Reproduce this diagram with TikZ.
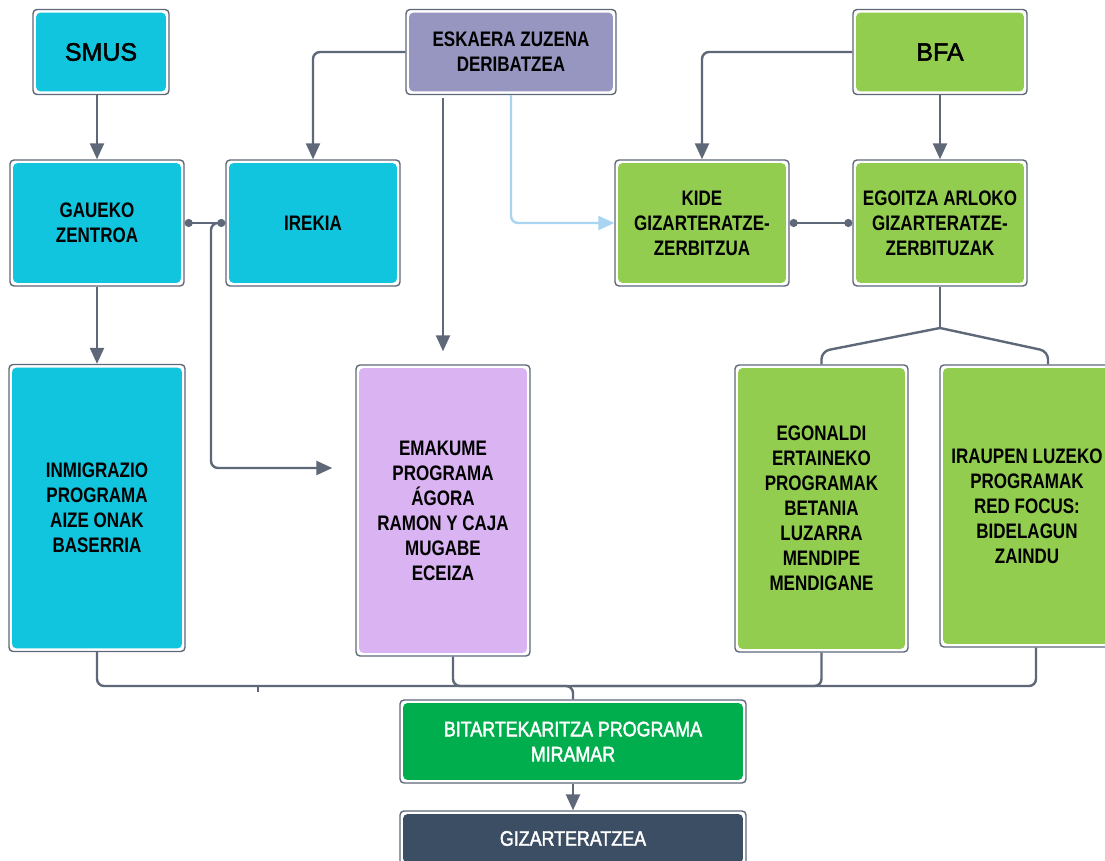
\documentclass[tikz,border=0pt]{standalone}
\usepackage{fontspec}
\setmainfont{Liberation Sans}[FakeStretch=0.85, FakeBold=2]
\newfontfamily\boxfont{Liberation Sans Bold}[FakeStretch=0.81]
\newfontfamily\headfont{Liberation Sans}[FakeBold=2]
\usetikzlibrary{arrows.meta}

\definecolor{smuscyan}{HTML}{12C5DE}
\definecolor{eskaerapurple}{HTML}{9696C0}
\definecolor{bfagreen}{HTML}{92CD4F}
\definecolor{emakumelilac}{HTML}{DAB3F2}
\definecolor{miramargreen}{HTML}{00AE4E}
\definecolor{gizarnavy}{HTML}{3C4E63}
\definecolor{linegray}{HTML}{5E6878}
\definecolor{lightblue}{HTML}{A9D4F2}

\tikzset{
	box/.style={draw=linegray, line width=0.7pt, fill=white, rounded corners=2pt,
		align=center, inner sep=2pt, font=\boxfont\fontsize{10.5}{12.5}\selectfont,
		path picture={\fill[#1] ([shift={(1.6pt,1.6pt)}]path picture bounding box.south west)
			rectangle ([shift={(-1.6pt,-1.6pt)}]path picture bounding box.north east);}},
	headbox/.style={box=#1, font=\headfont\fontsize{12.5}{15}\selectfont},
	whitebox/.style={box=#1, text=white, font=\fontsize{10.5}{12.5}\selectfont},
	link/.style={draw=linegray, line width=1.2pt},
	arr/.style={link, -{Triangle[length=8pt, width=7pt]}},
	lightarr/.style={draw=lightblue, line width=1.2pt, -{Triangle[length=8pt, width=7pt]}},
	dotlink/.style={link, {Circle[length=4pt]}-{Circle[length=4pt]}}
}

\begin{document}
\begin{tikzpicture}[x=0.5pt, y=-0.5pt]
		%%%%% START %%%%%
		\useasboundingbox (0, 0) rectangle (1105, 861);
		
		% top row
		\node[headbox=smuscyan, minimum width=68pt, minimum height=42.5pt] (smus) at (101, 52) {SMUS};
		\node[box=eskaerapurple, minimum width=105pt, minimum height=42.5pt] (eskaera) at (511, 52) {ESKAERA ZUZENA\\DERIBATZEA};
		\node[headbox=bfagreen, minimum width=87pt, minimum height=42.5pt] (bfa) at (940, 52) {BFA};
		
		% second row
		\node[box=smuscyan, minimum width=87pt, minimum height=63pt] (gaueko) at (97, 223) {GAUEKO\\ZENTROA};
		\node[box=smuscyan, minimum width=87pt, minimum height=63pt] (irekia) at (313, 223) {IREKIA};
		\node[box=bfagreen, minimum width=87pt, minimum height=63pt] (kide) at (702, 223) {KIDE\\GIZARTERATZE-\\ZERBITZUA};
		\node[box=bfagreen, minimum width=87pt, minimum height=63pt] (egoitza) at (940, 223) {EGOITZA ARLOKO\\GIZARTERATZE-\\ZERBITUZAK};
		
		% programs
		\node[box=smuscyan, minimum width=88pt, minimum height=143.5pt] (inmig) at (97, 508) {INMIGRAZIO\\PROGRAMA\\AIZE ONAK\\BASERRIA};
		\node[box=emakumelilac, minimum width=87pt, minimum height=145.5pt] (emakume) at (443, 510.5) {EMAKUME\\PROGRAMA\\ÁGORA\\RAMON Y CAJA\\MUGABE\\ECEIZA};
		\node[box=bfagreen, minimum width=86.5pt, minimum height=143.5pt] (egonaldi) at (821.5, 508.5) {EGONALDI\\ERTAINEKO\\PROGRAMAK\\BETANIA\\LUZARRA\\MENDIPE\\MENDIGANE};
		\node[box=bfagreen, minimum width=87pt, minimum height=141pt] (iraupen) at (1027, 506) {IRAUPEN LUZEKO\\PROGRAMAK\\RED FOCUS:\\BIDELAGUN\\ZAINDU};
		
		% bottom
		\node[whitebox=miramargreen, minimum width=173pt, minimum height=41.5pt] (bitart) at (573, 741.5) {BITARTEKARITZA PROGRAMA\\MIRAMAR};
		\node[whitebox=gizarnavy, minimum width=173pt, minimum height=27.5pt] (gizar) at (573, 838.5) {GIZARTERATZEA};
		
		\coordinate (bend) at (211, 468);
		\coordinate (split) at (940, 328);
		\coordinate (merge) at (573, 686);
		
		% connectors
		\draw[arr] (gaueko.north |- smus.south) -- (gaueko.north);
		\draw[arr] (gaueko) -- (inmig);
		\draw[arr, rounded corners=3.5pt] (eskaera.west) -| (irekia.north);
		\draw[arr, shorten <=1.5pt, shorten >=6.5pt] (emakume.north |- eskaera.south) -- (emakume.north);
		\draw[lightarr, rounded corners=3.5pt] (eskaera.south) |- (kide.west);
		\draw[arr, rounded corners=3.5pt] (bfa.west) -| (kide.north);
		\draw[arr] (bfa) -- (egoitza);
		\draw[dotlink] (kide.east) -- (egoitza.west);
		\draw[dotlink] (gaueko.east) -- (irekia.west);
		\draw[arr, rounded corners=3.5pt, shorten >=11.5pt] (irekia.west) -| (bend) -- (bend -| emakume.west);
		
		\draw[link] (egoitza) -- (split);
		\draw[link, rounded corners=4pt] (split) -- ([yshift=6.5pt]egonaldi.north) -- (egonaldi.north);
		\draw[link, rounded corners=4pt] (split) -- ([shift={(10.5pt,6.5pt)}]iraupen.north) -- ([xshift=10.5pt]iraupen.north);
		
		\draw[link, rounded corners=3.5pt] (inmig.south) |- (merge) -- (bitart.north);
		\draw[link, rounded corners=3.5pt] ([xshift=5pt]emakume.south) |- (merge);
		\draw[link, rounded corners=3.5pt] (egonaldi.south) |- (merge);
		\draw[link, rounded corners=3.5pt] ([xshift=4.5pt]iraupen.south) |- (merge);
		\draw[link, line width=0.6pt] (258, 686) -- (258, 692);
		
		\draw[arr] (bitart) -- (gizar);
		%%%%% END %%%%%
	\end{tikzpicture}
\end{document}
